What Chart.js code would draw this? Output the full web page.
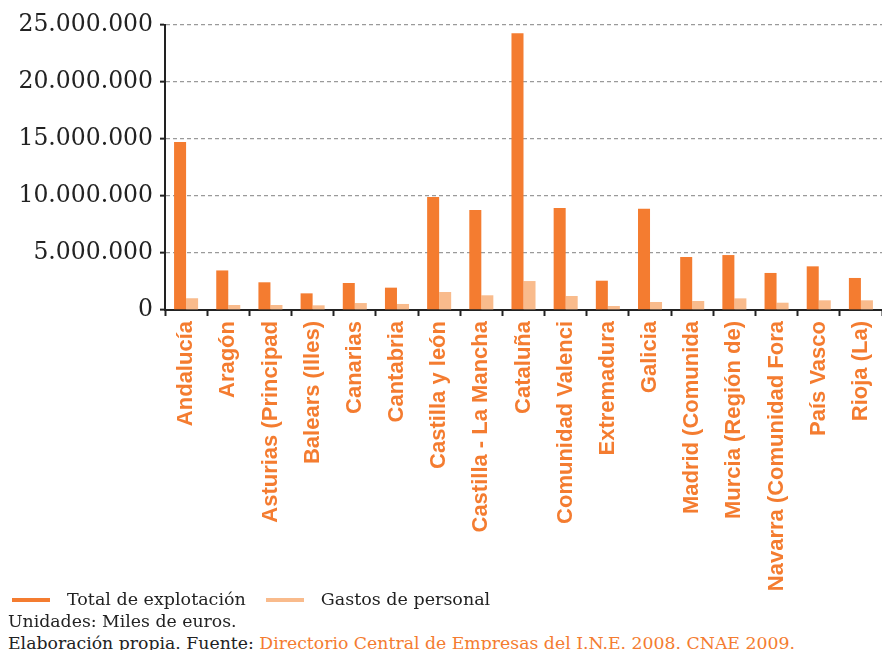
<!DOCTYPE html>
<html>
<head>
<meta charset="utf-8">
<script src="https://cdn.jsdelivr.net/npm/chart.js@4/dist/chart.umd.min.js"></script>
<style>
  html, body { margin: 0; padding: 0; background: #fff; }
  #wrap { position: relative; width: 882px; height: 650px; overflow: hidden; }
  #box { position: absolute; left: 0; top: 0; width: 882px; height: 600px; }
  .note { position: absolute; left: 8px; font-family: "DejaVu Serif", serif; font-size: 17.3px; color: #222; white-space: nowrap; line-height: 22px; }
  .note span { color: #f47c30; }
  #legend { position: absolute; left: 12px; top: 588px; display: flex; align-items: center; font-family: "DejaVu Serif", serif; font-size: 17.5px; color: #222; line-height: 22px; white-space: nowrap; }
  #legend .item { display: flex; align-items: center; margin-right: 20px; }
  #legend .sw { display: inline-block; width: 38px; height: 4px; margin-right: 17px; position: relative; top: 1px; }
</style>
</head>
<body>
<div id="wrap">
  <div id="box"><canvas id="c"></canvas></div>
  <div id="legend"></div>
  <div class="note" style="top:610px">Unidades: Miles de euros.</div>
  <div class="note" style="top:632px">Elaboración propia. Fuente: <span>Directorio Central de Empresas del I.N.E. 2008. CNAE 2009.</span></div>
</div>
<script>
const categories = [
  "Andalucía", "Aragón", "Asturias (Principad", "Balears (Illes)", "Canarias",
  "Cantabria", "Castilla y león", "Castilla - La Mancha", "Cataluña",
  "Comunidad Valenci", "Extremadura", "Galicia", "Madrid (Comunida",
  "Murcia (Región de)", "Navarra (Comunidad Fora", "País Vasco", "Rioja (La)"
];
const totalExplotacion = [
  14740000, 3470000, 2430000, 1460000, 2370000, 1960000, 9910000, 8770000,
  24270000, 8950000, 2570000, 8890000, 4650000, 4820000, 3250000, 3830000, 2810000
];
const gastosPersonal = [
  1030000, 440000, 440000, 410000, 610000, 530000, 1580000, 1290000,
  2540000, 1230000, 350000, 700000, 790000, 1020000, 640000, 850000, 850000
];
const seriesNames = ["Total de explotación", "Gastos de personal"];
const yTicks = [0, 5000000, 10000000, 15000000, 20000000, 25000000];

const ORANGE = "#f47c30";
const LIGHT = "#f9bb8c";
const fmt = v => String(v).replace(/\B(?=(\d{3})+(?!\d))/g, ".");

// HTML legend built from the chart's own legend items
const htmlLegend = {
  id: "htmlLegend",
  afterUpdate(chart) {
    const el = document.getElementById("legend");
    el.innerHTML = "";
    const items = chart.options.plugins.legend.labels.generateLabels(chart);
    items.forEach(it => {
      const d = document.createElement("div");
      d.className = "item";
      const sw = document.createElement("span");
      sw.className = "sw";
      sw.style.background = it.fillStyle;
      const t = document.createElement("span");
      t.textContent = it.text;
      d.appendChild(sw);
      d.appendChild(t);
      el.appendChild(d);
    });
  }
};

new Chart(document.getElementById("c"), {
  type: "bar",
  data: {
    labels: categories,
    datasets: [
      { label: seriesNames[0], data: totalExplotacion, backgroundColor: ORANGE, borderWidth: 0 },
      { label: seriesNames[1], data: gastosPersonal, backgroundColor: LIGHT, borderWidth: 0 }
    ]
  },
  plugins: [htmlLegend],
  options: {
    responsive: true,
    maintainAspectRatio: false,
    animation: false,
    layout: { padding: { top: 25, right: 0, left: 0, bottom: 0 } },
    datasets: { bar: { categoryPercentage: 0.57, barPercentage: 1.0 } },
    plugins: {
      tooltip: { enabled: false },
      legend: { display: false }
    },
    scales: {
      x: {
        afterFit: s => { s.height = 290; s.paddingLeft = 0; s.paddingRight = 0; },
        grid: { display: true, drawOnChartArea: false, offset: true, tickLength: 6, tickWidth: 2, tickColor: "#222" },
        border: { display: true, color: "#222", width: 2 },
        ticks: {
          autoSkip: false, minRotation: 90, maxRotation: 90, padding: 5,
          color: ORANGE,
          font: { family: "Liberation Sans", size: 22, weight: "bold" }
        }
      },
      y: {
        min: 0, max: 25000000,
        afterFit: s => { s.width = 165; },
        afterBuildTicks: s => { s.ticks = yTicks.map(v => ({ value: v })); },
        grid: { color: "#9a9a9a", lineWidth: 1.3, tickLength: 5, tickWidth: 2, tickColor: "#222" },
        border: { display: true, color: "#222", width: 2, dash: [4, 3] },
        ticks: {
          padding: 7,
          color: "#222",
          font: { family: "DejaVu Serif", size: 23.5 },
          callback: v => fmt(v)
        }
      }
    }
  }
});
</script>
</body>
</html>
